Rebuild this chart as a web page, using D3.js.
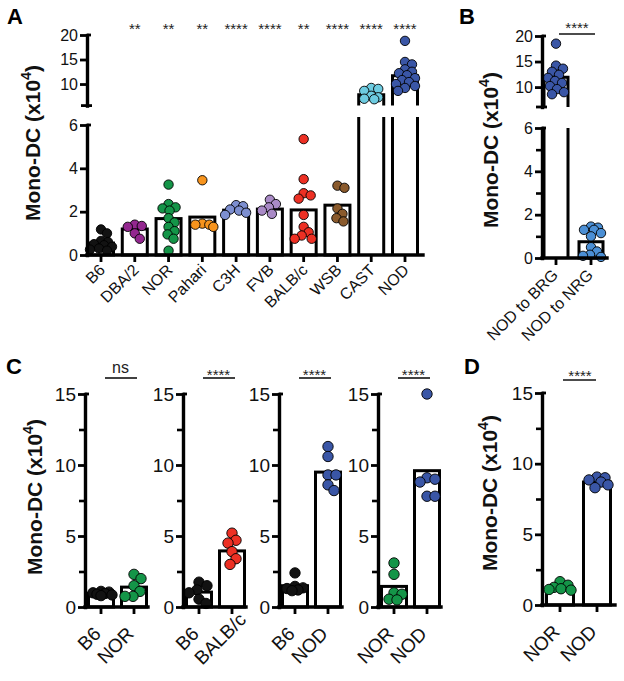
<!DOCTYPE html>
<html><head><meta charset="utf-8">
<script src="https://cdn.jsdelivr.net/npm/d3@7"></script>
<style>body{margin:0;background:#fff}svg{display:block}</style>
</head><body>
<svg id="c" width="624" height="681"></svg>
<script>
// ================= DATA =================
// Panel A
const catsA = ["B6","DBA/2","NOR","Pahari","C3H","FVB","BALB/c","WSB","CAST","NOD"];
const colorsA = ["#121212","#93278f","#149548","#f7941d","#7d8fd0","#a98ac6","#ed3024","#8a5a2c","#6dcbe0","#3a56a6"];
const meansA = [0.55, 1.2, 1.68, 1.75, 2.07, 2.12, 2.08, 2.3, 7.8, 11.7];
const starsA = ["", "**", "**", "**", "****", "****", "**", "****", "****", "****"];
const a_B6 = [1.18, 1.0, 0.65, 0.6, 0.5, 0.45, 0.38, 0.3, 0.25, 0.2];
const a_DBA2 = [1.4, 1.34, 1.3, 1.0, 0.75];
const a_NOR = [3.25, 2.35, 2.2, 2.15, 2.05, 1.7, 1.5, 1.3, 1.1, 0.95, 0.75, 0.2];
const a_Pahari = [3.45, 1.45, 1.4, 1.4, 1.3];
const a_C3H = [2.3, 2.25, 2.1, 2.05, 1.95, 1.85];
const a_FVB = [2.55, 2.35, 2.2, 2.05, 1.9];
const a_BALBc = [5.35, 3.5, 2.85, 2.75, 2.6, 1.85, 1.3, 1.05, 0.9, 0.75, 0.75];
const a_WSB = [3.2, 3.1, 2.15, 1.9, 1.7, 1.55];
const a_CAST = [9.2, 9.0, 8.6, 7.6, 7.3, 7.0, 6.9];
const a_NOD = [18.8, 14.5, 14.0, 13.0, 12.5, 12.2, 11.8, 11.2, 10.8, 10.4, 10.0, 9.6, 9.2, 8.6];
const yTicksA_low = [0, 2, 4, 6];
const yTicksA_up = [10, 15, 20];

// Panel B
const catsB = ["NOD to BRG", "NOD to NRG"];
const colorsB = ["#3a56a6", "#4b8fd5"];
const meansB = [11.9, 0.75];
const b_BRG = [18.5, 14.2, 13.6, 13.0, 12.4, 11.8, 11.2, 10.8, 10.2, 9.6, 9.0, 8.6];
const b_NRG = [1.45, 1.4, 1.3, 1.3, 1.15, 1.0, 0.5, 0.3, 0.15, 0.1, 0.05];
const starsB = "****";
const yTicksB_low = [0, 2, 4, 6];
const yMinorB_low = [1, 3, 5];
const yTicksB_up = [10, 15, 20];

// Panel C
const catsC = [["B6","NOR"], ["B6","BALB/c"], ["B6","NOD"], ["NOR","NOD"]];
const meansC = [[0.97, 1.4], [1.05, 3.95], [1.5, 9.5], [1.45, 9.6]];
const sigC = ["ns", "****", "****", "****"];
const c1_B6 = [1.1, 1.05, 1.0, 0.95, 0.9, 0.85, 0.8];
const c1_NOR = [2.3, 2.0, 1.5, 1.1, 0.75, 0.75];
const c2_B6 = [1.75, 1.5, 1.2, 1.0, 0.55, 0.25];
const c2_BALBc = [5.2, 4.7, 4.5, 3.9, 3.4, 3.0];
const c3_B6 = [2.4, 1.45, 1.35, 1.3, 1.2, 1.15];
const c3_NOD = [11.3, 10.6, 9.3, 9.3, 8.6, 8.2];
const c4_NOR = [3.1, 2.3, 1.0, 0.9, 0.55, 0.5];
const c4_NOD = [15.0, 9.1, 9.0, 8.8, 7.8, 7.8];
const yTicksC = [0, 5, 10, 15];
const yMinorC = [2.5, 7.5, 12.5];

// Panel D
const catsD = ["NOR", "NOD"];
const meansD = [1.25, 8.7];
const d_NOR = [1.65, 1.4, 1.25, 1.15, 1.1, 1.05];
const d_NOD = [9.05, 9.0, 8.85, 8.7, 8.5, 8.3];
const sigD = "****";

const strainColors = {"B6": "#121212", "NOR": "#149548", "BALB/c": "#ed3024", "NOD": "#3a56a6"};

// ================= DRAWING =================
const FONT = '"Liberation Sans", Arial, Helvetica, sans-serif';
const AXW = 3.4, BARW = 3;
const svg = d3.select("#c");

function styleAxis(g, fs) {
  g.select(".domain").attr("stroke", "#000").attr("stroke-width", AXW).attr("stroke-linecap", "square");
  g.selectAll(".tick line").attr("stroke", "#000").attr("stroke-width", 2.8);
  g.selectAll(".tick text").attr("font-family", FONT).attr("font-size", fs).attr("fill", "#111");
}
function yAxis(x0, scale, major, minor, fs, topCap, bottomCap) {
  const g = svg.append("g").attr("transform", `translate(${x0},0)`)
    .call(d3.axisLeft(scale).tickValues(major).tickSize(7).tickPadding(2).tickSizeOuter(0).tickFormat(d3.format("d")));
  styleAxis(g, fs);
  if (minor) {
    const gm = svg.append("g").attr("transform", `translate(${x0},0)`)
      .call(d3.axisLeft(scale).tickValues(minor).tickSize(6).tickFormat(""));
    gm.select(".domain").remove();
    gm.selectAll(".tick line").attr("stroke", "#000").attr("stroke-width", 2.6);
  }
  const r = scale.range();
  const yt = Math.min(r[0], r[1]), yb = Math.max(r[0], r[1]);
  if (topCap) svg.append("line").attr("x1", x0).attr("x2", x0 + 4).attr("y1", yt).attr("y2", yt)
    .attr("stroke", "#000").attr("stroke-width", 2.8);
  if (bottomCap) svg.append("line").attr("x1", x0 - 6).attr("x2", x0 + 5).attr("y1", yb).attr("y2", yb)
    .attr("stroke", "#000").attr("stroke-width", 2.8);
}
// shift: optional per-label slide along the label's own (rotated) direction
function xAxis(x0, x1, y, xs, cats, fs, ldx, ldy, shift) {
  svg.append("line").attr("x1", x0).attr("x2", x1).attr("y1", y).attr("y2", y)
    .attr("stroke", "#000").attr("stroke-width", AXW).attr("stroke-linecap", "square");
  cats.forEach((c, i) => {
    const x = xs[i];
    const s = (shift && shift[c]) ? shift[c] : 0;
    svg.append("line").attr("x1", x).attr("x2", x).attr("y1", y).attr("y2", y + 7)
      .attr("stroke", "#000").attr("stroke-width", 2.8);
    svg.append("text").attr("transform", `translate(${x + ldx},${y + ldy}) rotate(-45)`)
      .attr("x", s)
      .attr("text-anchor", "end").attr("font-family", FONT).attr("font-size", fs).attr("fill", "#111").text(c);
  });
}
function yLabel(x, y, fs) {
  const t = svg.append("text").attr("transform", `translate(${x},${y}) rotate(-90)`)
    .attr("text-anchor", "middle").attr("font-family", FONT).attr("font-weight", "bold")
    .attr("font-size", fs).attr("fill", "#111");
  t.append("tspan").text("Mono-DC (x10");
  t.append("tspan").attr("dy", -fs * 0.42).attr("font-size", fs * 0.68).text("4");
  t.append("tspan").attr("dy", fs * 0.42).text(")");
}
function panelLetter(x, y, s) {
  svg.append("text").attr("x", x).attr("y", y).attr("font-family", FONT).attr("font-weight", "bold")
    .attr("font-size", 22).attr("fill", "#000").text(s);
}
function swarm(vals, yf, maxOff, minD) {
  const items = vals.map(v => ({v, y: yf(v), dx: 0}));
  const order = items.slice().sort((a, b) => a.y - b.y);
  const placed = [];
  const cands = [0];
  for (let s = 1; s <= maxOff; s++) cands.push(s, -s);
  order.forEach(p => {
    let chosen = null, bestD = -1, bestC = 0;
    for (const c of cands) {
      let md = Infinity;
      placed.forEach(q => { const d = Math.hypot(q.dx - c, q.y - p.y); if (d < md) md = d; });
      if (md >= minD) { chosen = c; break; }
      if (md > bestD) { bestD = md; bestC = c; }
    }
    p.dx = chosen === null ? bestC : chosen;
    placed.push(p);
  });
  return items;
}
function drawPoints(xc, vals, yf, color, r, maxOff, minD) {
  swarm(vals, yf, maxOff, minD).forEach(p => {
    svg.append("circle").attr("cx", xc + p.dx).attr("cy", p.y).attr("r", r)
      .attr("fill", color).attr("stroke", "#000").attr("stroke-width", 0.9);
  });
}
function simpleBar(xc, w, yTop, yBase) {
  svg.append("rect").attr("x", xc - w / 2).attr("y", yTop).attr("width", w).attr("height", yBase - yTop)
    .attr("fill", "#fff").attr("stroke", "#000").attr("stroke-width", BARW);
}
function brokenBar(xc, w, yTop, upBottom, lowTop, yBase) {
  const xl = xc - w / 2, xr = xc + w / 2;
  svg.append("path").attr("d", `M${xl},${upBottom}V${yTop}H${xr}V${upBottom}`)
    .attr("fill", "#fff").attr("stroke", "#000").attr("stroke-width", BARW);
  svg.append("path").attr("d", `M${xl},${lowTop}V${yBase}M${xr},${lowTop}V${yBase}`)
    .attr("fill", "none").attr("stroke", "#000").attr("stroke-width", BARW);
}
function stars(x, y, s, fs) {
  svg.append("text").attr("x", x).attr("y", y).attr("text-anchor", "middle").attr("font-family", FONT)
    .attr("font-size", fs).attr("fill", "#222").text(s);
}
function sigLine(x1, x2, y) {
  svg.append("line").attr("x1", x1).attr("x2", x2).attr("y1", y).attr("y2", y)
    .attr("stroke", "#111").attr("stroke-width", 1.6);
}

// ---------- Panel A ----------
const pointsA = [a_B6, a_DBA2, a_NOR, a_Pahari, a_C3H, a_FVB, a_BALBc, a_WSB, a_CAST, a_NOD];
const xA = d3.scalePoint().domain(catsA).range([101, 405]);
const yA_low = d3.scaleLinear().domain([0, 6]).range([255, 125]);
const yA_up = d3.scaleLinear().domain([5.6, 20]).range([105.6, 35]);
const lowMaxA = 6.37;
const xA0 = 87, xA1 = 423;
catsA.forEach((c, i) => {
  const xc = xA(c), m = meansA[i];
  if (m > lowMaxA) brokenBar(xc, 25, yA_up(m), yA_up.range()[0], yA_low(lowMaxA), yA_low(0));
  else simpleBar(xc, 25, yA_low(m), yA_low(0));
});
catsA.forEach((c, i) => {
  const yf = v => v > lowMaxA ? yA_up(v) : yA_low(v);
  drawPoints(xA(c), pointsA[i], yf, colorsA[i], 4.7, 11, 7);
  if (starsA[i]) stars(xA(c), 34, starsA[i], 15);
});
yAxis(xA0, yA_low, yTicksA_low, null, 16, true, false);
yAxis(xA0, yA_up, yTicksA_up, null, 16, true, true);
xAxis(xA0, xA1, 255, catsA.map(c => xA(c)), catsA, 16, 5, 16);
yLabel(40, 143, 21);
panelLetter(7, 24, "A");

// ---------- Panel B ----------
const pointsB = [b_BRG, b_NRG];
const xB = d3.scalePoint().domain(catsB).range([556, 591]);
const yB_low = d3.scaleLinear().domain([0, 6]).range([258, 128]);
const yB_up = d3.scaleLinear().domain([6.1, 20]).range([107, 36]);
const lowMaxB = 6.1;
const xB0 = 542, xB1 = 607;
catsB.forEach((c, i) => {
  const xc = xB(c), m = meansB[i];
  if (m > lowMaxB) brokenBar(xc, 24, yB_up(m), yB_up.range()[0], yB_low(6), yB_low(0));
  else simpleBar(xc, 24, yB_low(m), yB_low(0));
});
catsB.forEach((c, i) => {
  const yf = v => v > lowMaxB ? yB_up(v) : yB_low(v);
  drawPoints(xB(c), pointsB[i], yf, colorsB[i], 4.7, 10, 7);
});
yAxis(xB0, yB_low, yTicksB_low, yMinorB_low, 16, true, false);
yAxis(xB0, yB_up, yTicksB_up, null, 16, true, true);
xAxis(xB0, xB1, 258, catsB.map(c => xB(c)), catsB, 16, 3, 18);
sigLine(559, 595, 34);
stars(577, 33, starsB, 15);
yLabel(498, 150, 21);
panelLetter(459, 24, "B");

// ---------- Panel C ----------
const pointsC = [[c1_B6, c1_NOR], [c2_B6, c2_BALBc], [c3_B6, c3_NOD], [c4_NOR, c4_NOD]];
const yC = d3.scaleLinear().domain([0, 15]).range([607, 394]);
const xC0s = [85, 183, 279, 378];
const labelShiftC = {"BALB/c": 20};
catsC.forEach((pair, k) => {
  const x0 = xC0s[k];
  const xs = d3.scalePoint().domain(pair.map((d, j) => j)).range([x0 + 16, x0 + 49]);
  pair.forEach((c, j) => simpleBar(xs(j), 25, yC(meansC[k][j]), yC(0)));
  pair.forEach((c, j) => drawPoints(xs(j), pointsC[k][j], yC, strainColors[c], 5.2, 11, 8));
  yAxis(x0, yC, yTicksC, yMinorC, 19, true, false);
  xAxis(x0, x0 + 63, yC(0), pair.map((d, j) => xs(j)), pair, 19, 1, 28, labelShiftC);
  sigLine(xs(0) + 4, xs(1) + 3, 378);
  if (sigC[k] === "ns") stars((xs(0) + xs(1)) / 2 + 3, 373, "ns", 16);
  else stars((xs(0) + xs(1)) / 2 + 3, 380, sigC[k], 15);
});
yLabel(42, 497, 21);
panelLetter(6, 374, "C");

// ---------- Panel D ----------
const yD = d3.scaleLinear().domain([0, 15]).range([605, 393]);
const xD = d3.scalePoint().domain(catsD).range([560, 597]);
const pointsD = [d_NOR, d_NOD];
catsD.forEach((c, i) => simpleBar(xD(c), 27, yD(meansD[i]), yD(0)));
catsD.forEach((c, i) => drawPoints(xD(c), pointsD[i], yD, strainColors[c], 5.2, 11, 8));
yAxis(542, yD, yTicksC, yMinorC, 19, true, false);
xAxis(542, 615, yD(0), catsD.map(c => xD(c)), catsD, 19, 1, 28);
sigLine(563, 596, 380);
stars(580, 381, sigD, 15);
yLabel(497, 493, 21);
panelLetter(464, 374, "D");
</script>
</body></html>
